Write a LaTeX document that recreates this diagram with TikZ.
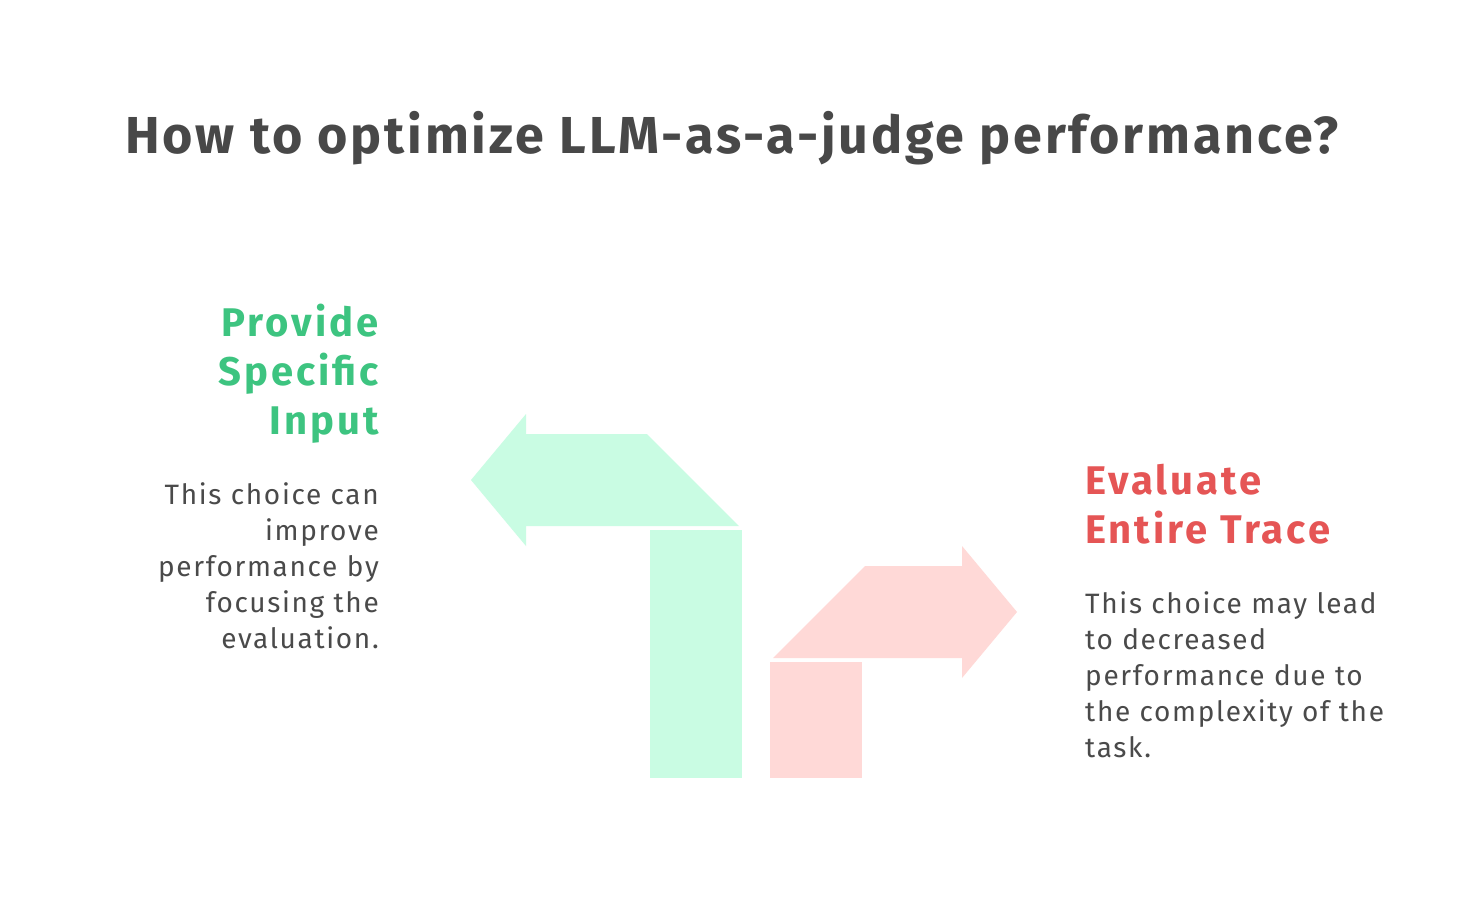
\documentclass[tikz,border=0pt]{standalone}
\usepackage{fontspec}
\setmainfont{Fira Sans}
\newfontfamily\titlefont[LetterSpace=5.5]{Fira Sans}
\newfontfamily\headfont[LetterSpace=7.5]{Fira Sans}
\newfontfamily\bodyfont[LetterSpace=6]{Fira Sans}
\definecolor{titlegray}{HTML}{484848}
\definecolor{textgray}{HTML}{4A4A4A}
\definecolor{greentxt}{HTML}{3DC480}
\definecolor{redtxt}{HTML}{E55555}
\definecolor{greenfill}{HTML}{C9FCE3}
\definecolor{redfill}{HTML}{FFD9D7}
\begin{document}
\begin{tikzpicture}[x=1pt,y=-1pt,
  titlestyle/.style={font=\titlefont\fontsize{52}{60}\selectfont\bfseries, text=titlegray, inner sep=0pt, anchor=base},
  headL/.style={font=\headfont\fontsize{40}{49}\selectfont\bfseries, text=greentxt, inner sep=0pt, text width=400pt, align=right, anchor=base east},
  headR/.style={font=\headfont\fontsize{40}{49}\selectfont\bfseries, text=redtxt, inner sep=0pt, text width=400pt, align=left, anchor=base west},
  bodyL/.style={font=\bodyfont\fontsize{28}{36}\selectfont, text=textgray, inner sep=0pt, text width=400pt, align=right, anchor=base east},
  bodyR/.style={font=\bodyfont\fontsize{28}{36}\selectfont, text=textgray, inner sep=0pt, text width=400pt, align=left, anchor=base west},
  greenshape/.style={fill=greenfill, draw=none},
  redshape/.style={fill=redfill, draw=none}]
\useasboundingbox[fill=white] (0,0) rectangle (1464,922);
% title
\node[titlestyle] (title) at (732,153) {How to optimize LLM-as-a-judge performance?};
% green arrow
\fill[greenshape] (471,480) -- (526,414) -- (526,434) -- (647,434) -- (739,526) -- (526,526) -- (526,546) -- cycle;
\fill[greenshape] (650,530) rectangle (742,778);
% red arrow
\fill[redshape] (773,658) -- (865,566) -- (962,566) -- (962,546) -- (1017,612) -- (962,678) -- (962,658) -- cycle;
\fill[redshape] (770,662) rectangle (862,778);
% left texts
\node[headL] (headleft) at (379,336) {Provide\\Specific\\Input};
\node[bodyL] (bodyleft) at (379,504) {This choice can\\improve\\performance by\\focusing the\\evaluation.};
% right texts
\node[headR] (headright) at (1085,494) {Evaluate\\Entire Trace};
\node[bodyR] (bodyright) at (1085,613) {This choice may lead\\to decreased\\performance due to\\the complexity of the\\task.};
\end{tikzpicture}
\end{document}
